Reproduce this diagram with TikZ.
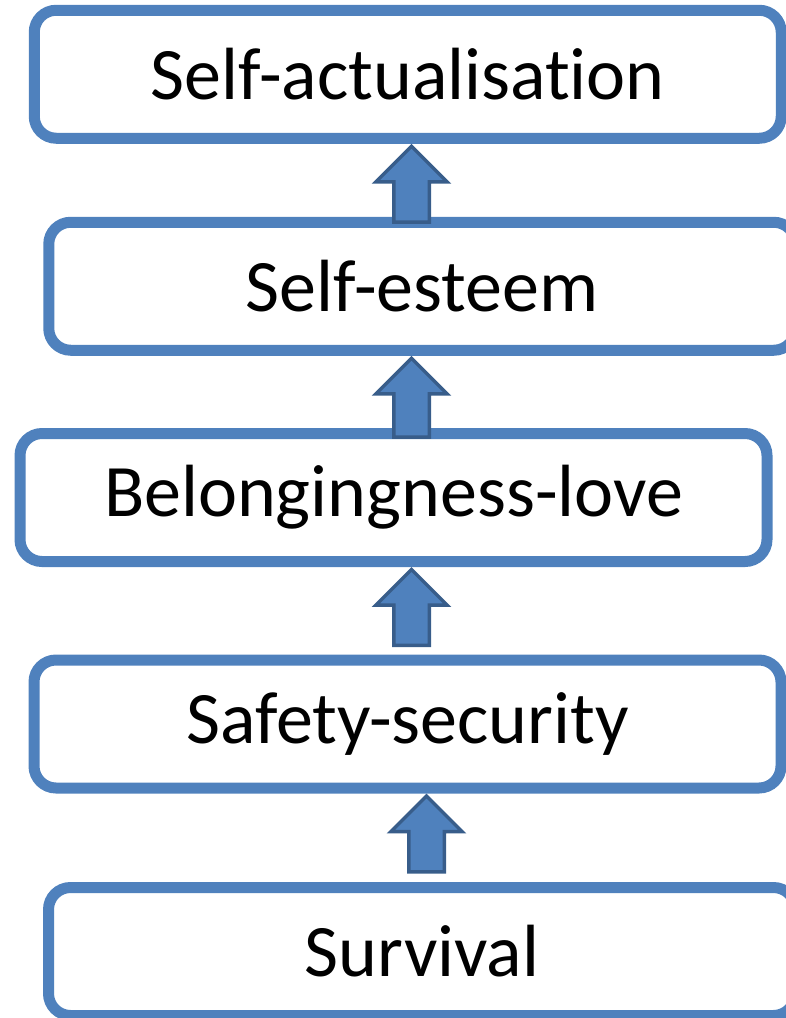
\documentclass[tikz,border=0pt]{standalone}
\usepackage{fontspec}
\setmainfont[Ligatures=NoCommon]{Carlito}
\usetikzlibrary{shapes.arrows}

\definecolor{boxblue}{RGB}{79,129,189}
\definecolor{arrowedge}{RGB}{56,93,138}

\tikzset{
	level/.style={draw=boxblue, line width=11pt, rounded corners=22pt, fill=white,
		minimum width=747pt, minimum height=128pt, inner sep=0pt,
		font=\fontsize{74}{88}\selectfont},
	uparrow/.style={single arrow, rotate=90, anchor=tip, draw=arrowedge, fill=boxblue,
		line width=3.5pt, inner sep=0pt, inner ysep=16pt,
		single arrow head extend=18pt, minimum width=0pt, minimum height=76pt}
}

\begin{document}
\begin{tikzpicture}[x=1pt,y=1pt,yscale=-1,xscale=1]
	\useasboundingbox (0,0) rectangle (786,1018);
	
	% Levels, top to bottom
	\draw (407.75,74.25) node [level] (sa) {Self-actualisation};
	\draw (422.25,286.25) node [level] (se) {Self-esteem};
	\draw (393.5,497.5) node [level] (bl) {Belongingness-love};
	\draw (407.5,724) node [level] (ss) {Safety-security};
	\draw (422,951.5) node [level] (sv) {Survival};
	
	% Block arrows, tip on the level above
	\node [uparrow] (up1) at (411.5,0 |- sa.south) {};
	\node [uparrow, minimum height=79pt] (up2) at (411.5,0 |- se.south) {};
	\node [uparrow] (up3) at (411.5,0 |- bl.south) {};
	\node [uparrow] (up4) at (426.5,0 |- ss.south) {};
\end{tikzpicture}
\end{document}
